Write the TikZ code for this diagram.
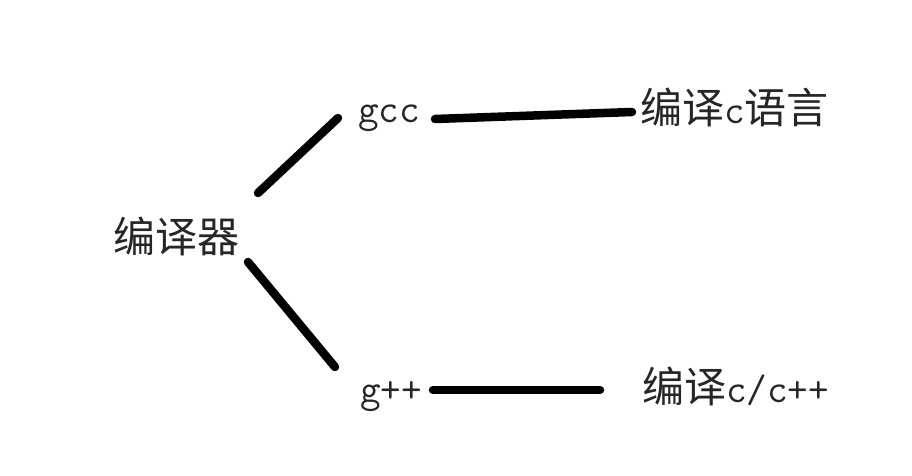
\documentclass[tikz,border=0pt]{standalone}
\usepackage{fontspec}
\newfontfamily\cjk{Noto Sans CJK SC}
\begin{document}
\begin{tikzpicture}[x=1pt,y=-1pt,
  lbl/.style={inner sep=0pt, outer sep=0pt, anchor=base west, text=black!85},
  conn/.style={line width=8.5pt, line cap=round}]
\useasboundingbox (0,0) rectangle (912,476);
\fill[white] (0,0) rectangle (912,476);
\newcommand{\zh}[1]{{\cjk\fontsize{42}{42}\selectfont #1}}
\newcommand{\la}[1]{{\ttfamily\fontsize{40}{42}\selectfont #1}}
\node[lbl] (comp) at (113,252) {\zh{编译器}};
\node[lbl] (gcc) at (358,123) {\la{gcc}};
\node[lbl] (gpp) at (360,402) {\la{g++}};
\node[lbl] (clang) at (640,124) {\zh{编译}\la{c}\zh{语言}};
\node[lbl] (cpp) at (642,402) {\zh{编译}\la{c/c++}};
\coordinate (a1) at (258,193);
\coordinate (a2) at (338,118);
\coordinate (b1) at (248,262);
\coordinate (b2) at (335,367);
\coordinate (c1) at (435,119);
\coordinate (c2) at (632,112);
\coordinate (d1) at (433,390);
\coordinate (d2) at (600,390);
\draw[conn] (a1) -- (a2);
\draw[conn] (b1) -- (b2);
\draw[conn] (c1) -- (c2);
\draw[conn] (d1) -- (d2);
\end{tikzpicture}
\end{document}
